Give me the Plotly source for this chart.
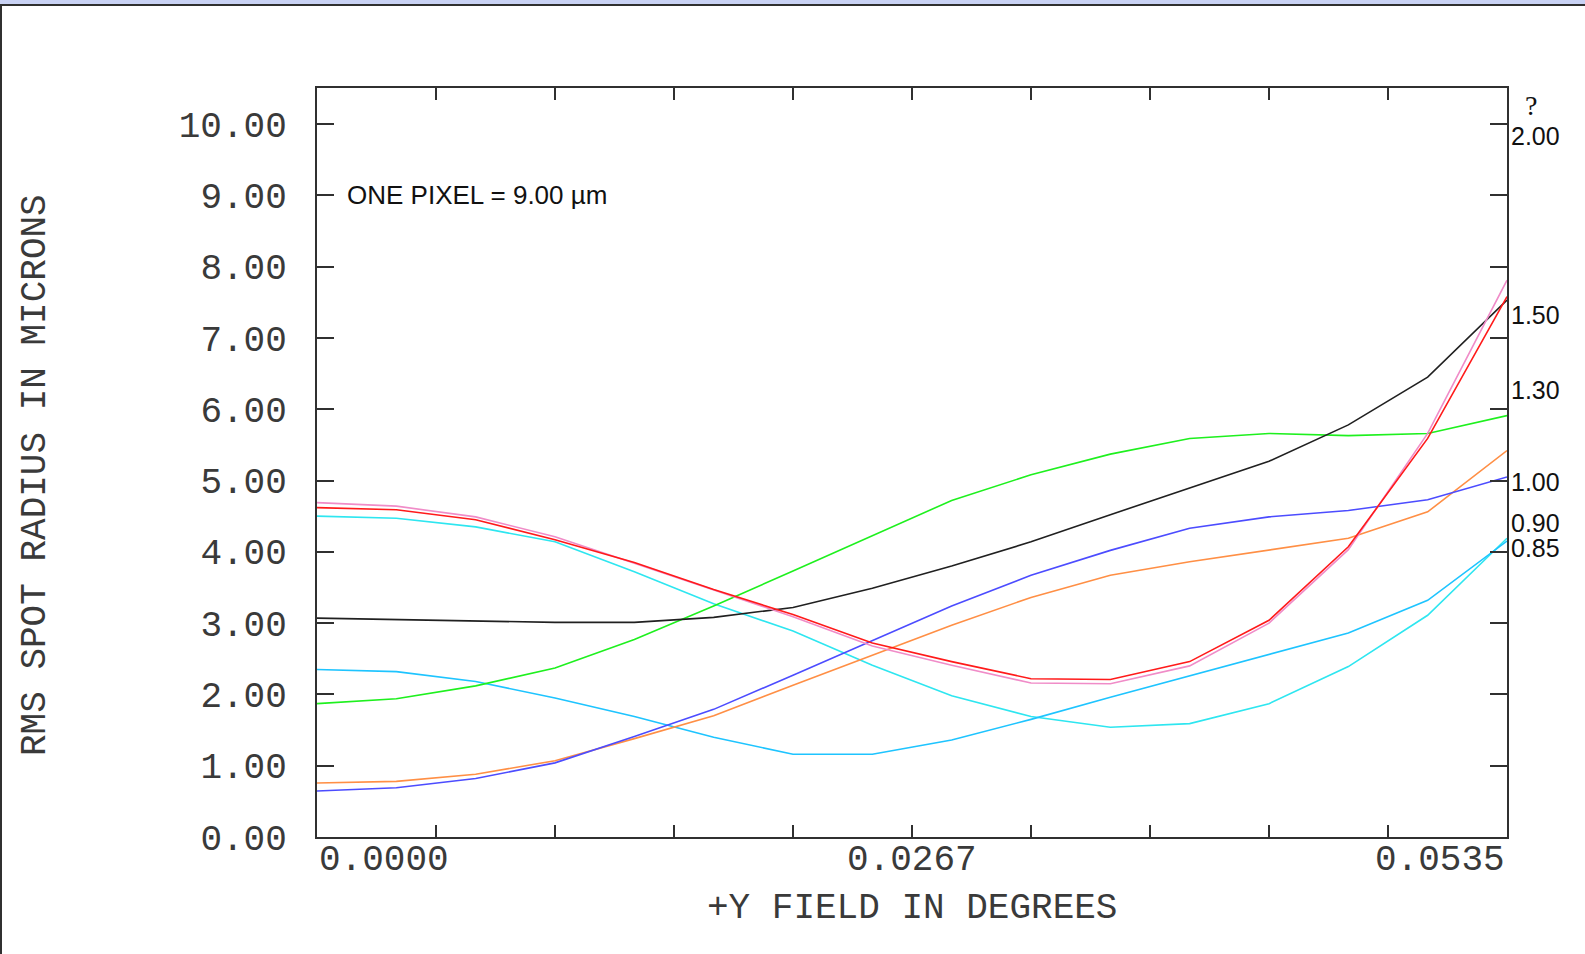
import plotly.graph_objects as go

# Field points (degrees)
n_pts = 16
x_max = 0.0535
field = [round(x_max * k / (n_pts - 1), 6) for k in range(n_pts)]

black = [3.07, 3.05, 3.03, 3.01, 3.01, 3.08, 3.22, 3.49, 3.80, 4.14, 4.52, 4.90, 5.27, 5.78, 6.45, 7.53]
green = [1.87, 1.94, 2.12, 2.37, 2.77, 3.24, 3.73, 4.22, 4.72, 5.08, 5.37, 5.59, 5.66, 5.63, 5.66, 5.91]
blue = [0.645, 0.69, 0.82, 1.04, 1.41, 1.79, 2.27, 2.75, 3.24, 3.67, 4.02, 4.33, 4.49, 4.58, 4.73, 5.05]
orange = [0.757, 0.78, 0.88, 1.07, 1.38, 1.70, 2.13, 2.55, 2.97, 3.36, 3.67, 3.86, 4.03, 4.19, 4.56, 5.42]
red = [4.62, 4.59, 4.45, 4.17, 3.85, 3.47, 3.12, 2.72, 2.46, 2.22, 2.21, 2.46, 3.04, 4.07, 5.59, 7.58]
pink = [4.69, 4.64, 4.49, 4.21, 3.84, 3.46, 3.09, 2.68, 2.41, 2.16, 2.15, 2.40, 3.00, 4.03, 5.66, 7.81]
turquoise = [4.50, 4.47, 4.35, 4.14, 3.72, 3.27, 2.89, 2.41, 1.98, 1.69, 1.54, 1.59, 1.87, 2.39, 3.11, 4.19]
skyblue = [2.35, 2.32, 2.18, 1.95, 1.69, 1.40, 1.16, 1.16, 1.36, 1.65, 1.96, 2.26, 2.55, 2.86, 3.32, 4.15]

series = [
    ("turquoise", turquoise, "#2ee6f0"),
    ("skyblue", skyblue, "#1ec4ff"),
    ("orange", orange, "#ff8f45"),
    ("blue", blue, "#4c4cff"),
    ("green", green, "#1ef01e"),
    ("black", black, "#202020"),
    ("pink", pink, "#f08cc8"),
    ("red", red, "#ff1a1a"),
]

x_labels = ["0.0000", "0.0267", "0.0535"]
y_ticks = [0, 1, 2, 3, 4, 5, 6, 7, 8, 9, 10]
right_labels = ["2.00", "1.50", "1.30", "1.00", "0.90", "0.85"]
right_label_px = [136, 315, 390, 482, 523, 548]

W, H = 1585, 954
L, R, T, B = 317, 1507, 88, 837  # plot area in pixels
y_max = 10.505
mono = "Liberation Mono, DejaVu Sans Mono, monospace"
sans = "Liberation Sans, Arial, sans-serif"
txt_col = "#3a3a3a"
mono_size = 36


def px_x(p):
    return (p - L) / (R - L)


def px_y(p):
    return (B - p) / (B - T)


fig = go.Figure()
for name, vals, col in series:
    fig.add_trace(go.Scatter(x=field, y=vals, mode="lines", name=name,
                             line=dict(color=col, width=1.6), showlegend=False,
                             hoverinfo="skip"))

axis_common = dict(showline=True, linecolor="#303030", linewidth=2, mirror="ticks",
                   ticks="inside", tickcolor="#303030", tickwidth=2,
                   showgrid=False, zeroline=False)

fig.update_xaxes(range=[0, x_max], tick0=0, dtick=x_max / 10, ticklen=12,
                 showticklabels=False, **axis_common)
fig.update_yaxes(range=[0, y_max], tickvals=y_ticks, tickformat=".2f", ticklen=17,
                 ticklabelstandoff=21,
                 tickfont=dict(family=mono, size=mono_size, color=txt_col), **axis_common)

ann = []
# x tick labels
anchors = ["left", "center", "right"]
for lab, xv, an in zip(x_labels, [0, x_max / 2, x_max], anchors):
    ann.append(dict(x=xv, y=px_y(860), xref="x", yref="paper", text=lab, showarrow=False,
                    xanchor=an, yanchor="middle",
                    font=dict(family=mono, size=mono_size, color=txt_col)))
# axis titles
ann.append(dict(x=0.5, y=px_y(908), xref="paper", yref="paper", text="+Y FIELD IN DEGREES",
                showarrow=False, xanchor="center", yanchor="middle",
                font=dict(family=mono, size=mono_size, color=txt_col)))
ann.append(dict(x=px_x(35), y=px_y(475), xref="paper", yref="paper",
                text="RMS SPOT RADIUS IN MICRONS", textangle=-90, showarrow=False,
                xanchor="center", yanchor="middle",
                font=dict(family=mono, size=mono_size, color=txt_col)))
# pixel note
ann.append(dict(x=px_x(345), y=px_y(195), xref="paper", yref="paper",
                text="ONE PIXEL = 9.00 µm", showarrow=False, xanchor="left", yanchor="middle",
                font=dict(family=sans, size=26, color="#111111")))
# right-side wavelength labels
ann.append(dict(x=px_x(1531), y=px_y(106), xref="paper", yref="paper", text="?",
                showarrow=False, xanchor="center", yanchor="middle",
                font=dict(family="Liberation Serif, serif", size=28, color="#111111")))
for lab, py in zip(right_labels, right_label_px):
    ann.append(dict(x=px_x(1509), y=px_y(py), xref="paper", yref="paper", text=lab,
                    showarrow=False, xanchor="left", yanchor="middle",
                    font=dict(family=sans, size=25, color="#111111")))

shapes = [
    dict(type="rect", xref="paper", yref="paper", x0=px_x(0), x1=px_x(W), y0=px_y(4.5),
         y1=px_y(0), fillcolor="#c9d2f4", line=dict(width=0), layer="below"),
    dict(type="line", xref="paper", yref="paper", x0=px_x(0), x1=px_x(W), y0=px_y(5),
         y1=px_y(5), line=dict(color="#303030", width=2)),
    dict(type="line", xref="paper", yref="paper", x0=px_x(1), x1=px_x(1), y0=px_y(5),
         y1=px_y(H), line=dict(color="#303030", width=2)),
]

fig.update_layout(width=W, height=H, margin=dict(l=L, r=W - R, t=T, b=H - B),
                  paper_bgcolor="white", plot_bgcolor="white",
                  annotations=ann, shapes=shapes, showlegend=False)

fig.write_html("out.html")
